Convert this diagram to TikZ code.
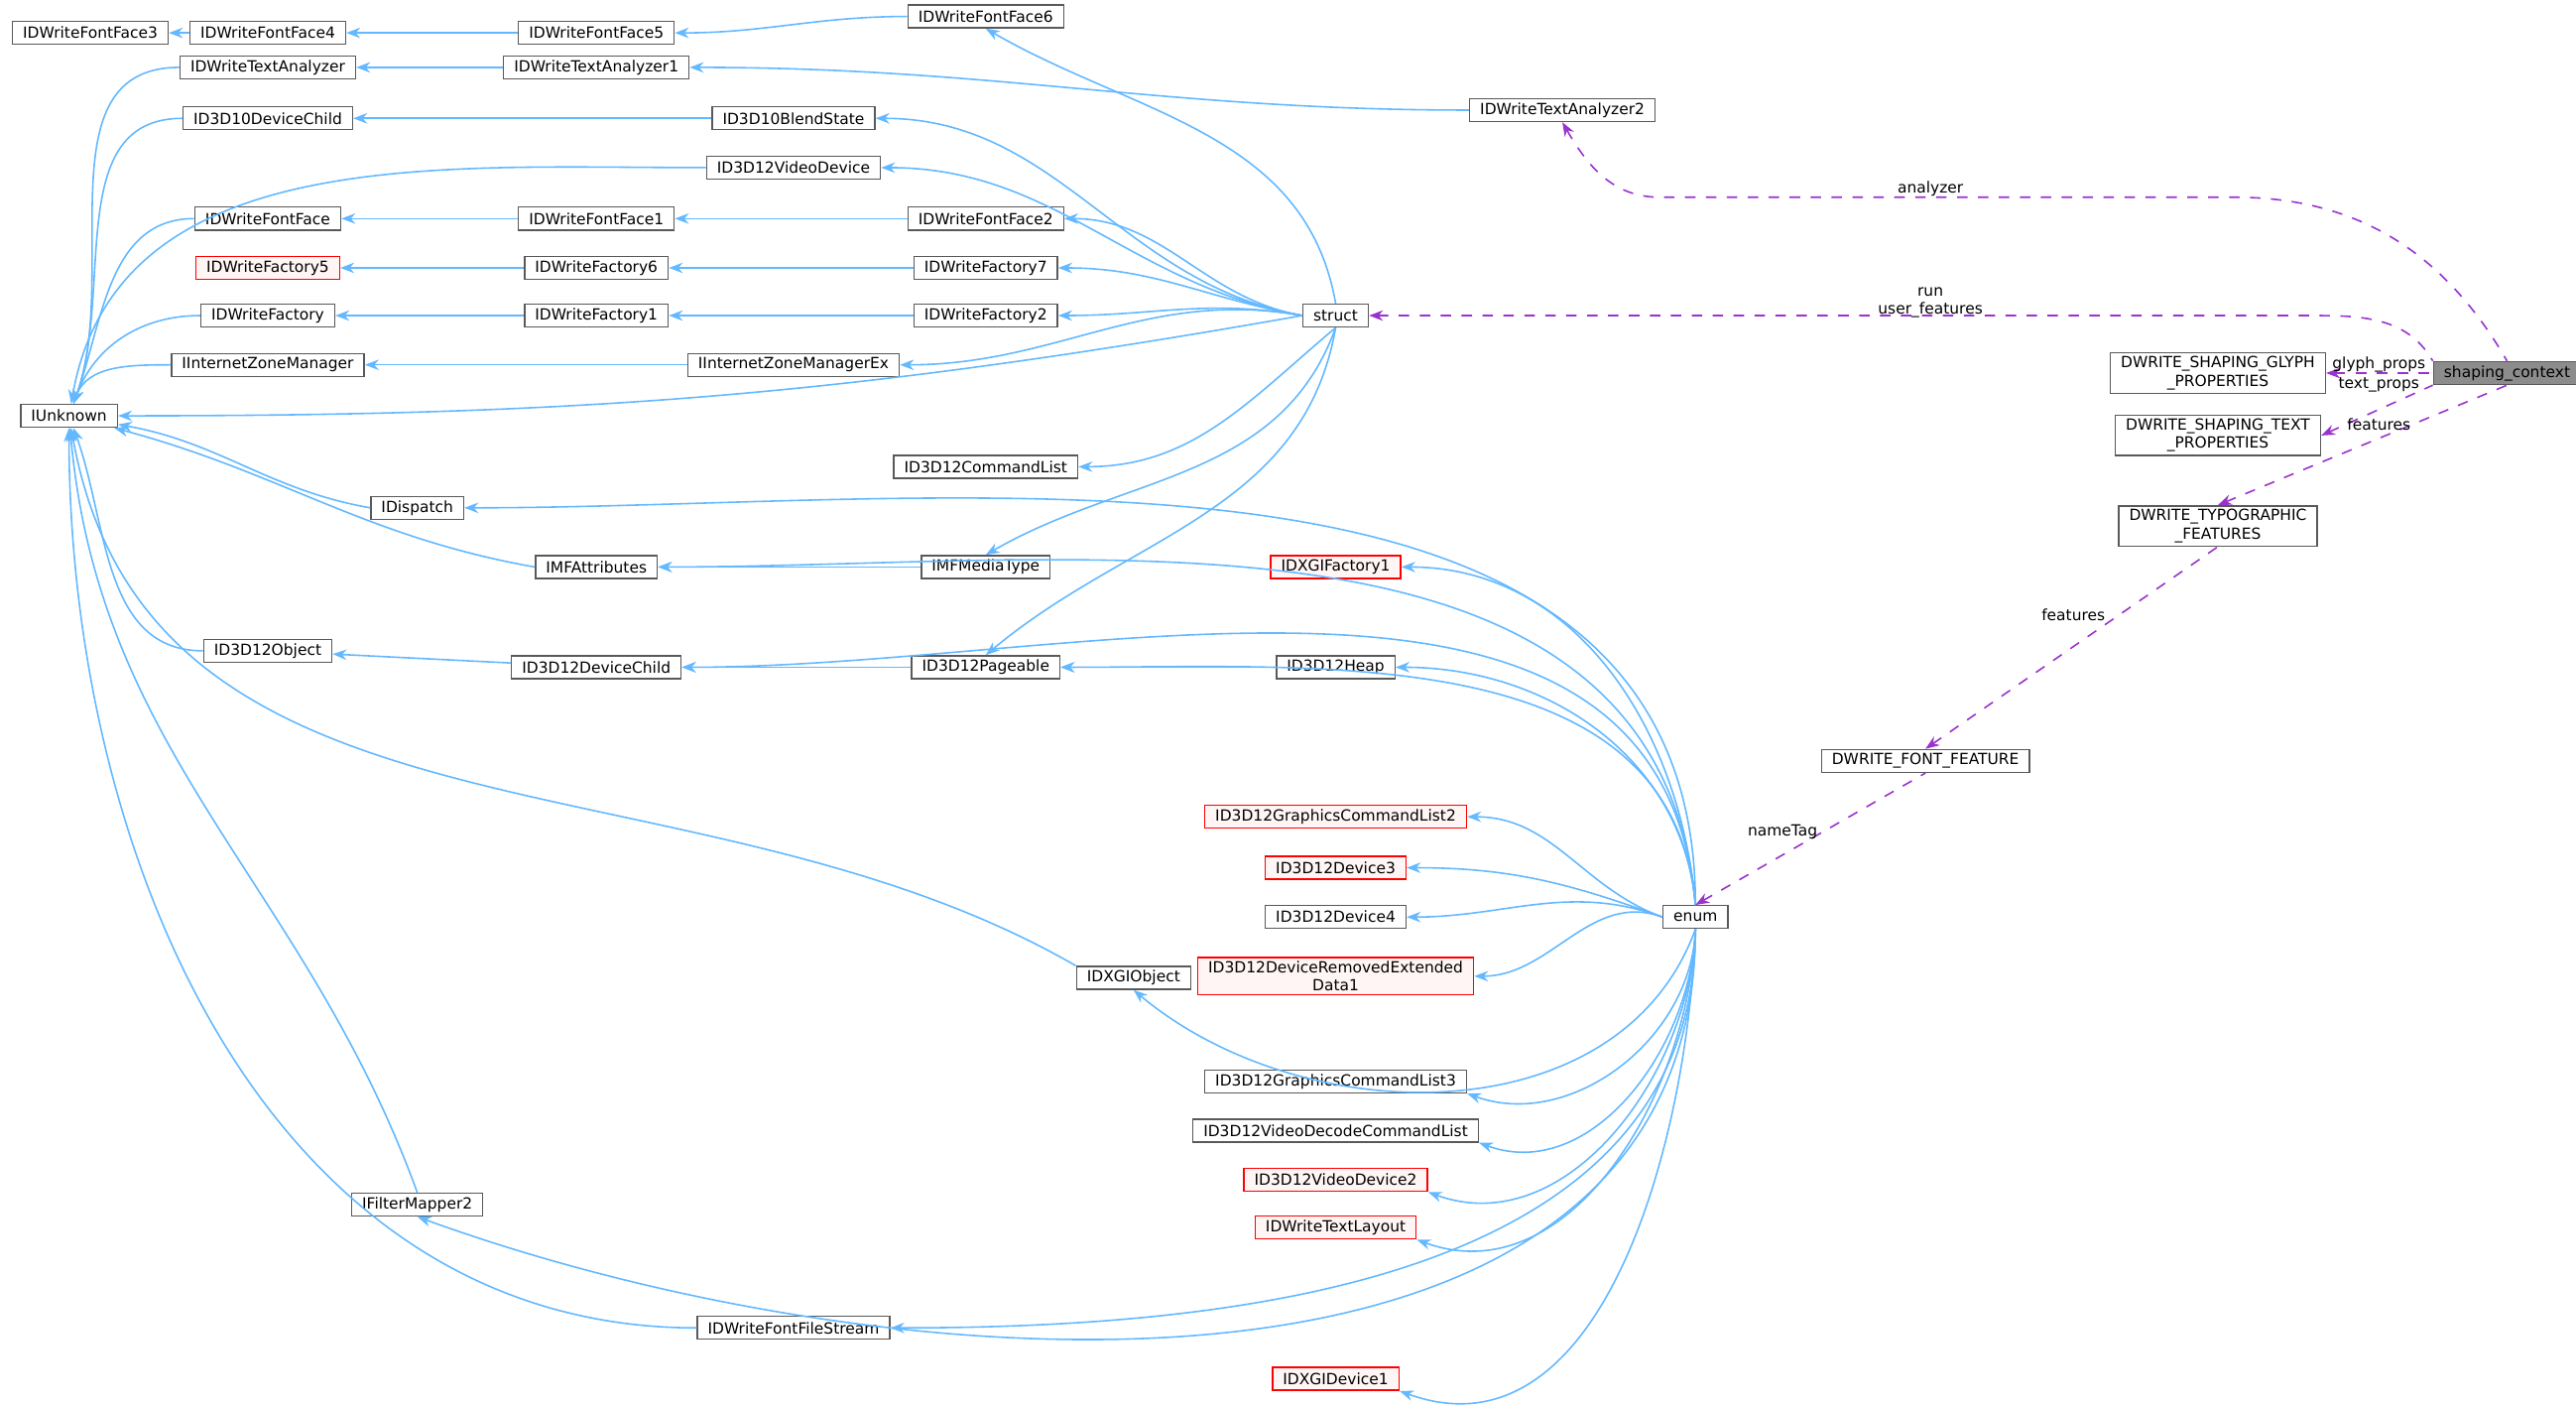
\documentclass[tikz,border=0pt]{standalone}
\usepackage{fontspec}
\setmainfont{DejaVu Sans}
\usetikzlibrary{arrows.meta, positioning}
\definecolor{edgeblue}{HTML}{63B8FF}
\definecolor{edgepurple}{HTML}{9A32CD}
\begin{document}
\begin{tikzpicture}[
    x=0.01656cm, y=-0.01656cm,
    cls/.style={rectangle, draw=black!65, fill=white, minimum height=0.23cm, inner xsep=3pt, inner ysep=1pt, align=center, font=\fontsize{4.4}{5.2}\selectfont},
    redcls/.style={cls, draw=red, fill=red!4},
    focus/.style={cls, fill=black!45},
    inh/.style={{Stealth[length=4pt]}-, edgeblue, line width=0.45pt},
    use/.style={{Stealth[length=4pt]}-, edgepurple, dashed, line width=0.45pt},
    elabel/.style={font=\fontsize{4.4}{5.2}\selectfont, text=black, align=center, inner sep=1pt}
]
    \useasboundingbox (0,0) rectangle (1568,856);
    % Classes
    \node[cls] (ff3) at (55,20) {IDWriteFontFace3};
    \node[cls] (ff4) at (163,20) {IDWriteFontFace4};
    \node[cls] (ff5) at (363,20) {IDWriteFontFace5};
    \node[cls] (ff6) at (600,10) {IDWriteFontFace6};
    \node[cls] (ta) at (163,41) {IDWriteTextAnalyzer};
    \node[cls] (ta1) at (363,41) {IDWriteTextAnalyzer1};
    \node[cls] (ta2) at (951,67) {IDWriteTextAnalyzer2};
    \node[cls] (dc10) at (163,72) {ID3D10DeviceChild};
    \node[cls] (bs10) at (483,72) {ID3D10BlendState};
    \node[cls] (vd12) at (483,102) {ID3D12VideoDevice};
    \node[cls] (ff) at (163,133) {IDWriteFontFace};
    \node[cls] (ff1) at (363,133) {IDWriteFontFace1};
    \node[cls] (ff2) at (600,133) {IDWriteFontFace2};
    \node[redcls] (fa5) at (163,163) {IDWriteFactory5};
    \node[cls] (fa6) at (363,163) {IDWriteFactory6};
    \node[cls] (fa7) at (600,163) {IDWriteFactory7};
    \node[cls] (fa) at (163,192) {IDWriteFactory};
    \node[cls] (fa1) at (363,192) {IDWriteFactory1};
    \node[cls] (fa2) at (600,192) {IDWriteFactory2};
    \node[cls] (izm) at (163,222) {IInternetZoneManager};
    \node[cls] (izmex) at (483,222) {IInternetZoneManagerEx};
    \node[cls] (struct) at (813,192) {struct};
    \node[cls] (unk) at (42,253) {IUnknown};
    \node[cls] (cl12) at (600,284) {ID3D12CommandList};
    \node[cls] (disp) at (254,309) {IDispatch};
    \node[cls] (mfa) at (363,345) {IMFAttributes};
    \node[cls] (mfmt) at (600,345) {IMFMediaType};
    \node[redcls] (gif1) at (813,345) {IDXGIFactory1};
    \node[cls] (obj12) at (163,396) {ID3D12Object};
    \node[cls] (dc12) at (363,406) {ID3D12DeviceChild};
    \node[cls] (pg12) at (600,406) {ID3D12Pageable};
    \node[cls] (heap) at (813,406) {ID3D12Heap};
    \node[redcls] (gcl2) at (813,497) {ID3D12GraphicsCommandList2};
    \node[redcls] (dev3) at (813,528) {ID3D12Device3};
    \node[cls] (dev4) at (813,558) {ID3D12Device4};
    \node[redcls] (dred) at (813,594) {ID3D12DeviceRemovedExtended\\Data1};
    \node[cls] (gobj) at (690,595) {IDXGIObject};
    \node[cls] (gcl3) at (813,658) {ID3D12GraphicsCommandList3};
    \node[cls] (vdcl) at (813,688) {ID3D12VideoDecodeCommandList};
    \node[redcls] (vd2) at (813,718) {ID3D12VideoDevice2};
    \node[redcls] (tl) at (813,747) {IDWriteTextLayout};
    \node[cls] (fm2) at (254,733) {IFilterMapper2};
    \node[cls] (ffs) at (483,808) {IDWriteFontFileStream};
    \node[redcls] (gdev1) at (813,839) {IDXGIDevice1};
    \node[cls] (enum) at (1032,558) {enum};
    \node[cls] (ffeat) at (1172,463) {DWRITE\_FONT\_FEATURE};
    \node[cls] (tfeat) at (1350,320) {DWRITE\_TYPOGRAPHIC\\\_FEATURES};
    \node[cls] (gprop) at (1350,227) {DWRITE\_SHAPING\_GLYPH\\\_PROPERTIES};
    \node[cls] (tprop) at (1350,265) {DWRITE\_SHAPING\_TEXT\\\_PROPERTIES};
    \node[focus] (ctx) at (1526,227) {shaping\_context};

    % Inheritance
    \draw[inh] (ff3) -- (ff4);
    \draw[inh] (ff4) -- (ff5);
    \draw[inh] (ff5.east) to[out=0,in=180] (ff6.west);
    \draw[inh] (ta) -- (ta1);
    \draw[inh] (ta1.east) to[out=0,in=180] (ta2.west);
    \draw[inh] (dc10) -- (bs10);
    \draw[inh] (ff) -- (ff1);
    \draw[inh] (ff1) -- (ff2);
    \draw[inh] (fa5) -- (fa6);
    \draw[inh] (fa6) -- (fa7);
    \draw[inh] (fa) -- (fa1);
    \draw[inh] (fa1) -- (fa2);
    \draw[inh] (izm) -- (izmex);
    \draw[inh] (mfa) -- (mfmt);
    \draw[inh] (obj12) -- (dc12);
    \draw[inh] (dc12) -- (pg12);
    \draw[inh] (pg12) -- (heap);
    \foreach \c in {ta, dc10, ff, fa, izm}
        \draw[inh] (unk) to[out=70,in=180] (\c.west);
    \draw[inh] (unk) to[out=80,in=180] (vd12.west);
    \draw[inh] (unk.east) to[out=0,in=190] (struct.west);
    \draw[inh] (unk) to[out=-10,in=170] (disp.west);
    \draw[inh] (unk) to[out=-15,in=170] (mfa.west);
    \draw[inh] (unk) to[out=-70,in=180] (obj12.west);
    \draw[inh] (unk) to[out=-80,in=150] (gobj.north west);
    \draw[inh] (unk) to[out=-85,in=110] (fm2.north);
    \draw[inh] (unk) to[out=-90,in=180] (ffs.west);
    % to struct
    \foreach \c in {bs10, vd12, ff2, fa7, fa2, izmex}
        \draw[inh] (\c.east) to[out=0,in=170] (struct.west);
    \draw[inh] (ff6.south) to[out=-30,in=100] (struct.north);
    \draw[inh] (cl12.east) to[out=0,in=-140] (struct.south);
    \draw[inh] (mfmt.north) to[out=30,in=-110] (struct.south);
    \draw[inh] (pg12.north) to[out=40,in=-100] (struct.south);
    % to enum
    \draw[inh] (disp.east) to[out=0,in=90] (enum.north);
    \foreach \c in {mfa, gif1, heap, pg12, dc12}
        \draw[inh] (\c.east) to[out=0,in=95] (enum.north);
    \foreach \c in {gcl2, dev3, dev4, dred}
        \draw[inh] (\c.east) to[out=0,in=160] (enum.west);
    \draw[inh] (gobj.south) to[out=-40,in=-110] (enum.south);
    \foreach \c in {gcl3, vdcl, vd2, tl, gdev1}
        \draw[inh] (\c.south east) to[out=-20,in=-92] (enum.south);
    \draw[inh] (fm2.south) to[out=-20,in=-90] (enum.south);
    \draw[inh] (ffs.east) to[out=0,in=-90] (enum.south);

    % Usage
    \draw[use] (ta2.south) to[out=-60,in=180] (1010,120) -- (1360,120) to[out=0,in=120] (ctx.north);
    \node[elabel] (anlbl) at (1175,115) {analyzer};
    \draw[use] (struct.east) to[out=0,in=180] (1000,192) -- (1400,192) to[out=0,in=120] (ctx.north west);
    \node[elabel] (runlbl) at (1175,184) {run\\user\_features};
    \draw[use] (gprop) -- (ctx);
    \node[elabel] (gplbl) at (1448,222) {glyph\_props};
    \draw[use] (tprop.east) -- (ctx.south west);
    \node[elabel] (tplbl) at (1448,234) {text\_props};
    \draw[use] (tfeat.north) -- (ctx.south);
    \node[elabel] (tflbl) at (1448,258) {features};
    \draw[use] (ffeat.north) -- (tfeat.south);
    \node[elabel] (fflbl) at (1262,374) {features};
    \draw[use] (enum.north) -- (ffeat.south);
    \node[elabel] (ntlbl) at (1085,506) {nameTag};
\end{tikzpicture}
\end{document}
